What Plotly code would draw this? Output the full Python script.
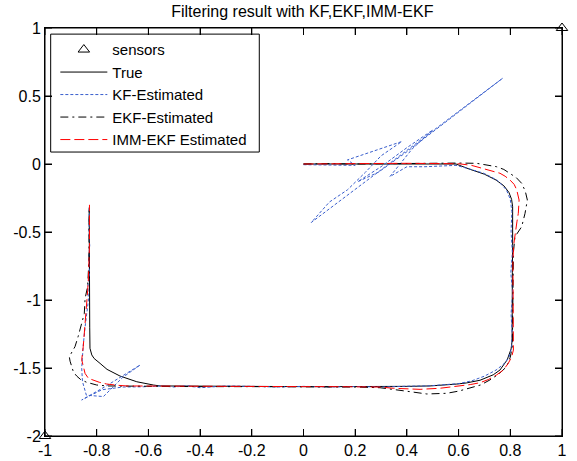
import plotly.graph_objects as go

# ---------------- data ----------------
sensor_x = [-1.0, 1.0]
sensor_y = [-2.0, 1.0]

true_pts = [
    (0.00, 0.000), (0.10, 0.000), (0.20, 0.000), (0.30, 0.000), (0.40, 0.000),
    (0.50, 0.000), (0.59, 0.000), (0.644, -0.039), (0.70, -0.075), (0.745, -0.118),
    (0.775, -0.160), (0.795, -0.210), (0.805, -0.260), (0.809, -0.314), (0.810, -0.440),
    (0.809, -0.600), (0.808, -0.800), (0.808, -1.000), (0.807, -1.100), (0.807, -1.200),
    (0.807, -1.300), (0.803, -1.360), (0.788, -1.440), (0.760, -1.515), (0.734, -1.550),
    (0.683, -1.590), (0.630, -1.610), (0.593, -1.618), (0.540, -1.627), (0.489, -1.632),
    (0.400, -1.635), (0.296, -1.637), (0.200, -1.637), (0.100, -1.637), (0.000, -1.637),
    (-0.100, -1.636), (-0.200, -1.636), (-0.300, -1.635), (-0.400, -1.634), (-0.500, -1.633),
    (-0.555, -1.632), (-0.581, -1.625), (-0.645, -1.601), (-0.710, -1.559), (-0.760, -1.510),
    (-0.787, -1.466), (-0.810, -1.430), (-0.819, -1.404), (-0.826, -1.355), (-0.827, -1.200),
    (-0.828, -1.000), (-0.828, -0.800), (-0.829, -0.600), (-0.829, -0.320),
]

kf_pts = [
    (0.00, -0.005), (0.07, -0.008), (0.14, -0.012), (0.20, -0.010), (0.17, 0.030),
    (0.28, 0.100), (0.38, 0.165), (0.30, 0.060), (0.24, -0.060), (0.17, -0.190),
    (0.10, -0.280), (0.03, -0.430), (0.20, -0.190), (0.33, 0.000), (0.47, 0.200),
    (0.60, 0.390), (0.70, 0.530), (0.77, 0.630), (0.66, 0.470), (0.55, 0.310),
    (0.40, 0.090), (0.29, -0.060), (0.21, -0.130), (0.30, -0.020), (0.40, 0.120),
    (0.50, 0.250), (0.42, 0.110), (0.334, -0.093), (0.40, -0.020), (0.47, -0.020),
    (0.53, -0.015), (0.59, -0.010), (0.64, -0.035), (0.70, -0.070), (0.75, -0.120),
    (0.785, -0.190), (0.800, -0.260), (0.806, -0.350), (0.803, -0.500), (0.808, -0.650),
    (0.802, -0.800), (0.809, -0.950), (0.803, -1.100), (0.807, -1.250), (0.805, -1.350),
    (0.795, -1.420), (0.775, -1.470), (0.745, -1.515), (0.700, -1.560), (0.650, -1.595),
    (0.600, -1.615), (0.540, -1.625), (0.480, -1.632), (0.400, -1.634), (0.300, -1.640),
    (0.200, -1.636), (0.100, -1.640), (0.000, -1.635), (-0.100, -1.640), (-0.200, -1.635),
    (-0.300, -1.632), (-0.400, -1.645), (-0.450, -1.630), (-0.500, -1.640), (-0.550, -1.632),
    (-0.620, -1.638), (-0.700, -1.640), (-0.780, -1.660), (-0.858, -1.735), (-0.770, -1.640),
    (-0.700, -1.560), (-0.632, -1.478), (-0.700, -1.570), (-0.774, -1.710), (-0.840, -1.700),
    (-0.855, -1.600), (-0.858, -1.500), (-0.856, -1.400), (-0.852, -1.330), (-0.845, -1.200),
    (-0.838, -1.100), (-0.832, -1.000), (-0.834, -0.900), (-0.828, -0.800), (-0.831, -0.700),
    (-0.827, -0.600), (-0.830, -0.500), (-0.828, -0.400), (-0.829, -0.320),
]

ekf_pts = [
    (0.00, 0.000), (0.10, 0.003), (0.20, 0.000), (0.30, 0.003), (0.40, 0.005),
    (0.50, 0.007), (0.60, 0.007), (0.67, 0.005), (0.72, -0.008), (0.747, -0.020),
    (0.775, -0.040), (0.799, -0.068), (0.823, -0.100), (0.844, -0.142), (0.858, -0.200),
    (0.866, -0.265), (0.862, -0.315), (0.857, -0.363), (0.844, -0.461), (0.818, -0.535),
    (0.812, -0.650), (0.811, -0.850), (0.810, -1.000), (0.809, -1.200), (0.808, -1.340),
    (0.800, -1.420), (0.786, -1.490), (0.755, -1.545), (0.721, -1.588), (0.685, -1.625),
    (0.644, -1.649), (0.600, -1.670), (0.554, -1.686), (0.477, -1.691), (0.412, -1.674),
    (0.347, -1.657), (0.296, -1.645), (0.200, -1.640), (0.100, -1.638), (0.000, -1.637),
    (-0.200, -1.637), (-0.400, -1.637), (-0.600, -1.637), (-0.700, -1.634), (-0.761, -1.632),
    (-0.800, -1.625), (-0.839, -1.605), (-0.862, -1.585), (-0.877, -1.560), (-0.890, -1.530),
    (-0.897, -1.490), (-0.903, -1.450), (-0.906, -1.417), (-0.895, -1.380), (-0.884, -1.343),
    (-0.872, -1.270), (-0.862, -1.190), (-0.855, -1.140), (-0.848, -1.100), (-0.845, -0.990),
    (-0.835, -0.900), (-0.830, -0.700), (-0.829, -0.500), (-0.829, -0.320),
]

imm_pts = [
    (0.00, 0.000), (0.10, 0.003), (0.20, 0.003), (0.30, 0.004), (0.40, 0.005),
    (0.50, 0.005), (0.60, 0.002), (0.650, -0.010), (0.696, -0.032), (0.730, -0.048),
    (0.760, -0.068), (0.780, -0.090), (0.799, -0.118), (0.815, -0.150), (0.825, -0.191),
    (0.834, -0.265), (0.833, -0.320), (0.831, -0.363), (0.826, -0.420), (0.822, -0.485),
    (0.814, -0.583), (0.810, -0.700), (0.810, -0.900), (0.810, -1.100), (0.810, -1.250),
    (0.811, -1.320), (0.812, -1.368), (0.805, -1.420), (0.792, -1.466), (0.773, -1.515),
    (0.747, -1.551), (0.715, -1.585), (0.683, -1.608), (0.645, -1.622), (0.605, -1.632),
    (0.528, -1.649), (0.451, -1.657), (0.400, -1.654), (0.347, -1.649), (0.296, -1.640),
    (0.200, -1.637), (0.100, -1.637), (0.000, -1.637), (-0.100, -1.637), (-0.200, -1.637),
    (-0.300, -1.637), (-0.400, -1.637), (-0.500, -1.637), (-0.600, -1.637), (-0.684, -1.632),
    (-0.720, -1.627), (-0.761, -1.618), (-0.790, -1.605), (-0.813, -1.588), (-0.832, -1.576),
    (-0.845, -1.540), (-0.852, -1.480), (-0.858, -1.440), (-0.852, -1.343), (-0.845, -1.189),
    (-0.839, -1.050), (-0.835, -0.930), (-0.832, -0.838), (-0.829, -0.716), (-0.828, -0.600),
    (-0.828, -0.450), (-0.828, -0.300),
]

x_range = [-1, 1]
y_range = [-2, 1]
x_tick_vals = [-1, -0.8, -0.6, -0.4, -0.2, 0, 0.2, 0.4, 0.6, 0.8, 1]
x_tick_text = ["-1", "-0.8", "-0.6", "-0.4", "-0.2", "0", "0.2", "0.4", "0.6", "0.8", "1"]
y_tick_vals = [-2, -1.5, -1, -0.5, 0, 0.5, 1]
y_tick_text = ["-2", "-1.5", "-1", "-0.5", "0", "0.5", "1"]

title_text = "Filtering result with KF,EKF,IMM-EKF"
FONT = "Liberation Sans, Arial, sans-serif"
FS = 16
LEGEND_FS = 15

# figure geometry (styling)
W, H = 577, 461
ML, MR, MT, MB = 45, 15, 28, 25
TICK_PX = 7


def xs(pts):
    return [p[0] for p in pts]


def ys(pts):
    return [p[1] for p in pts]


fig = go.Figure()
fig.add_trace(go.Scatter(
    x=xs(true_pts), y=ys(true_pts), mode="lines", name="True",
    legendgroup="b", legendrank=2, line=dict(color="black", width=1)))
fig.add_trace(go.Scatter(
    x=xs(kf_pts), y=ys(kf_pts), mode="lines", name="KF-Estimated",
    legendgroup="c", legendrank=3, line=dict(color="#3a5fcd", width=1, dash="3px,2px")))
fig.add_trace(go.Scatter(
    x=xs(ekf_pts), y=ys(ekf_pts), mode="lines", name="EKF-Estimated",
    legendgroup="d", legendrank=4, line=dict(color="black", width=1, dash="8px,4px,2px,4px")))
fig.add_trace(go.Scatter(
    x=xs(imm_pts), y=ys(imm_pts), mode="lines", name="IMM-EKF Estimated",
    legendgroup="e", legendrank=5, line=dict(color="red", width=1, dash="10px,4px")))

# inward tick marks on all four sides, placed from the tick lists and axis ranges
dy = (y_range[1] - y_range[0]) * TICK_PX / (H - MT - MB)
dx = (x_range[1] - x_range[0]) * TICK_PX / (W - ML - MR)
tx, ty = [], []
for v in x_tick_vals:
    tx += [v, v, None, v, v, None]
    ty += [y_range[0], y_range[0] + dy, None, y_range[1], y_range[1] - dy, None]
for v in y_tick_vals:
    tx += [x_range[0], x_range[0] + dx, None, x_range[1], x_range[1] - dx, None]
    ty += [v, v, None, v, v, None]
fig.add_trace(go.Scatter(x=tx, y=ty, mode="lines", showlegend=False, hoverinfo="skip",
                         line=dict(color="black", width=1)))

fig.add_trace(go.Scatter(
    x=sensor_x, y=sensor_y, mode="markers", name="sensors", legendgroup="a",
    legendrank=1,
    marker=dict(symbol="triangle-up-open", size=10, color="black", line=dict(width=1)),
    cliponaxis=False))

axis_common = dict(
    showgrid=False, zeroline=False, showline=True, linecolor="black",
    ticks="inside", ticklen=TICK_PX, tickcolor="black", tickwidth=1, mirror="allticks",
    tickfont=dict(family=FONT, size=FS, color="black"),
)

fig.update_layout(
    width=W, height=H,
    margin=dict(l=ML, r=MR, t=MT, b=MB, autoexpand=False),
    paper_bgcolor="white", plot_bgcolor="white",
    title=dict(text=title_text, x=0.524, xanchor="center", y=0.976, yanchor="middle",
               font=dict(family=FONT, size=FS, color="black")),
    xaxis=dict(range=x_range, tickvals=x_tick_vals, ticktext=x_tick_text, **axis_common),
    yaxis=dict(range=y_range, tickvals=y_tick_vals, ticktext=y_tick_text, **axis_common),
    legend=dict(x=0.02, y=0.987, xanchor="left", yanchor="top",
                bgcolor="rgba(0,0,0,0)", borderwidth=0, itemwidth=47,
                tracegroupgap=2, traceorder="normal",
                font=dict(family=FONT, size=LEGEND_FS, color="black")),
    shapes=[
        dict(type="rect", xref="paper", yref="paper",
             x0=0.011, x1=0.4145, y0=0.696, y1=0.985,
             line=dict(color="black", width=1), fillcolor="white", layer="below"),
        dict(type="rect", xref="paper", yref="paper",
             x0=0, x1=1, y0=0, y1=1,
             line=dict(color="black", width=1), fillcolor="rgba(0,0,0,0)", layer="above"),
    ],
)

fig.write_html("out.html",
               config={"displayModeBar": False},
               post_script="document.body.style.margin='0';")
